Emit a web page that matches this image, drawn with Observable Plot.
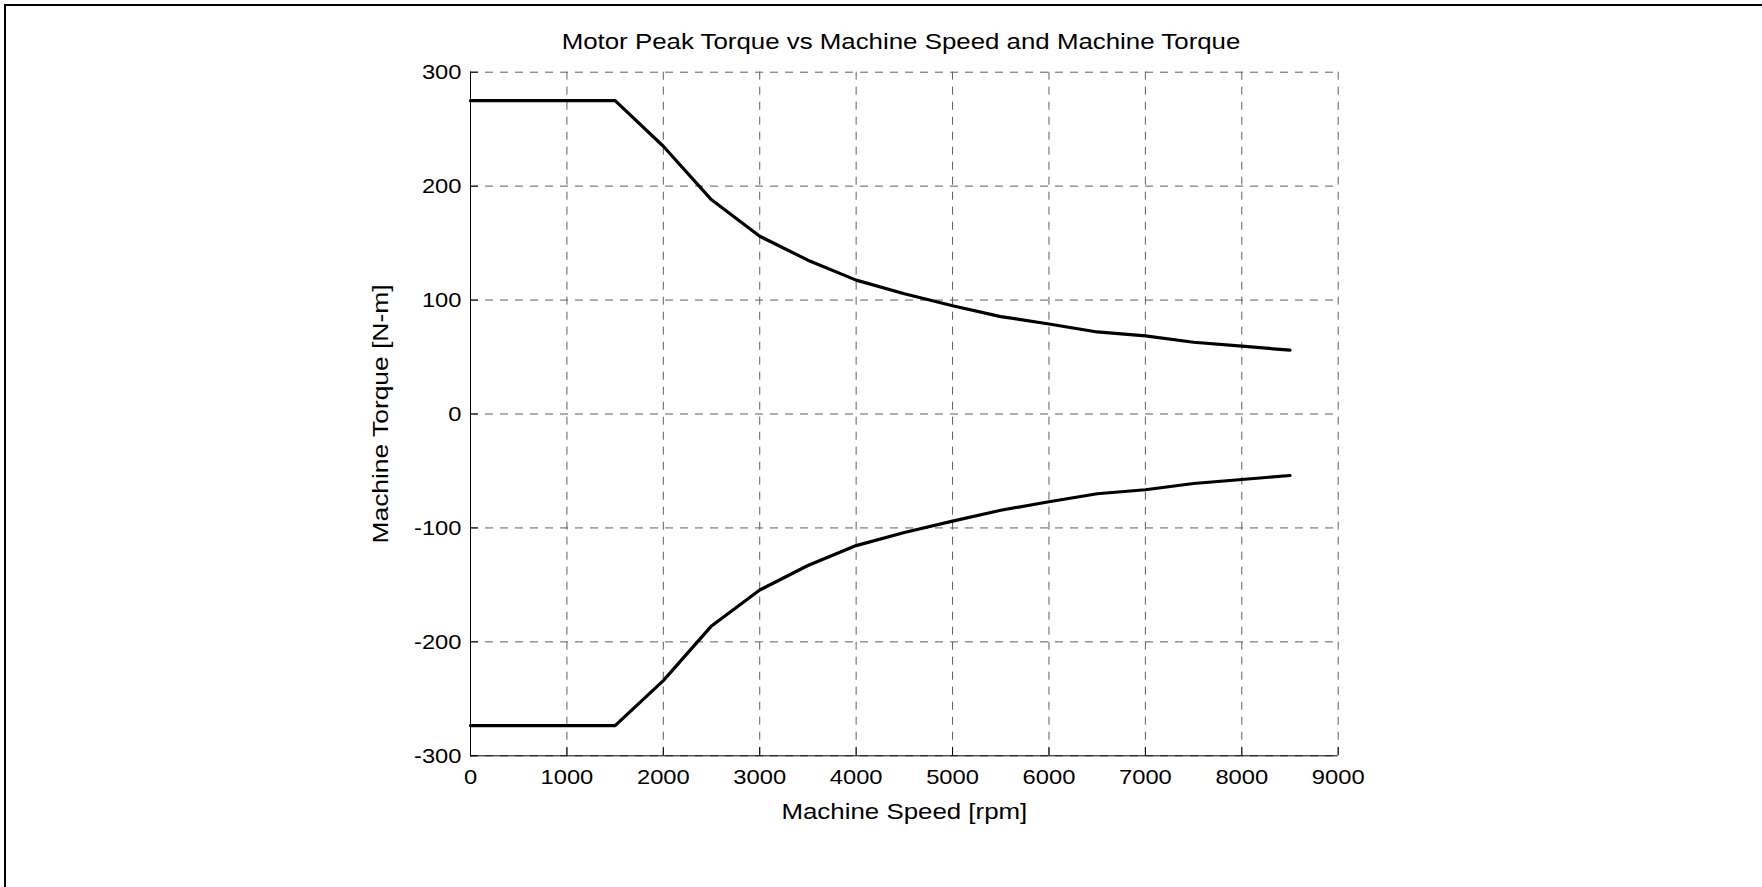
<!DOCTYPE html>
<html>
<head>
<meta charset="utf-8">
<script src="https://cdn.jsdelivr.net/npm/d3@7"></script>
<script src="https://cdn.jsdelivr.net/npm/@observablehq/plot@0.6"></script>
<style>
html, body { margin: 0; padding: 0; background: #fff; }
#wrap { position: relative; width: 1762px; height: 887px; overflow: hidden; font-family: "Liberation Sans", Arial, sans-serif; }
#title { height: 60px; position: relative; }
#title span { position: absolute; left: 901px; top: 31px; white-space: nowrap; font-size: 22px; line-height: 22px; color: #000; transform: translateX(-50%) scaleX(1.175); }
#border { position: absolute; left: 4px; top: 4px; right: -10px; bottom: -10px; border-top: 2px solid #000; border-left: 2px solid #000; pointer-events: none; }
</style>
</head>
<body>
<div id="wrap">
  <div id="title"><span>Motor Peak Torque vs Machine Speed and Machine Torque</span></div>
  <div id="chart"></div>
  <div id="border"></div>
</div>
<script>
// Machine speed [rpm]
const speed = [0, 1500, 2000, 2500, 3000, 3500, 4000, 4500, 5000, 5500, 6000, 6500, 7000, 7500, 8000, 8500];
// Peak motoring torque [N-m]
const motoringTorque = [275, 275, 235, 188, 156, 135, 117.5, 105.5, 95, 85.5, 79, 72, 68.5, 63, 59.5, 56];
// Peak generating torque [N-m]
const generatingTorque = [-273.5, -273.5, -234, -186, -154.5, -133, -115.5, -104, -94, -84.5, -77, -70, -66.5, -61, -57.5, -54];

const xTicks = [0, 1000, 2000, 3000, 4000, 5000, 6000, 7000, 8000, 9000];
const yTicks = [-300, -200, -100, 0, 100, 200, 300];

const xLabel = "Machine Speed [rpm]";
const yLabel = "Machine Torque [N-m]";

const rows = [
  ...speed.map((s, i) => ({speed: s, torque: motoringTorque[i], series: "motoring"})),
  ...speed.map((s, i) => ({speed: s, torque: generatingTorque[i], series: "generating"}))
];

const gridStyle = {stroke: "#5f5f5f", strokeOpacity: 1, strokeWidth: 1, strokeDasharray: "8,7"};
const plain = d => String(d);

const chart = Plot.plot({
  width: 1762,
  height: 827,
  marginLeft: 470,
  marginRight: 424.3,
  marginTop: 11.7,
  marginBottom: 131.7,
  style: {fontFamily: "Liberation Sans, Arial, sans-serif", fontSize: "21px", color: "#000", background: "transparent"},
  x: {domain: [0, 9000]},
  y: {domain: [-300, 300]},
  marks: [
    Plot.gridX(xTicks, gridStyle),
    Plot.gridY(yTicks, gridStyle),
    Plot.ruleX([0], {stroke: "#000", strokeWidth: 1}),
    Plot.ruleY([-300], {stroke: "#000", strokeWidth: 1}),
    Plot.axisX(xTicks, {tickSize: -8, tickPadding: 21, tickFormat: plain, label: null, fontSize: 21, stroke: "#000"}),
    Plot.axisY(yTicks, {tickSize: -8, tickPadding: 17, tickFormat: plain, label: null, fontSize: 21, stroke: "#000"}),
    Plot.line(rows, {x: "speed", y: "torque", z: "series", stroke: "#000", strokeWidth: 3.2, strokeLinejoin: "miter"}),
    Plot.text([xLabel], {text: d => d, frameAnchor: "bottom", textAnchor: "middle", lineAnchor: "bottom", dy: 62.7, fontSize: 22.5, fill: "#000"}),
    Plot.text([yLabel], {text: d => d, frameAnchor: "left", textAnchor: "middle", rotate: -90, lineAnchor: "bottom", dx: -83, fontSize: 22, fill: "#000"})
  ]
});

document.getElementById("chart").appendChild(chart);

// Slight widening of glyphs along the reading direction to match the reference font metrics
chart.querySelectorAll("text").forEach(t => {
  const isTick = t.closest('[aria-label$="tick label"]');
  const tr = t.getAttribute("transform") || "";
  const s = isTick ? 1.13 : (tr.includes("rotate") ? 1.2 : 1.15);
  t.setAttribute("transform", (tr + ` scale(${s},1)`).trim());
});
</script>
</body>
</html>
